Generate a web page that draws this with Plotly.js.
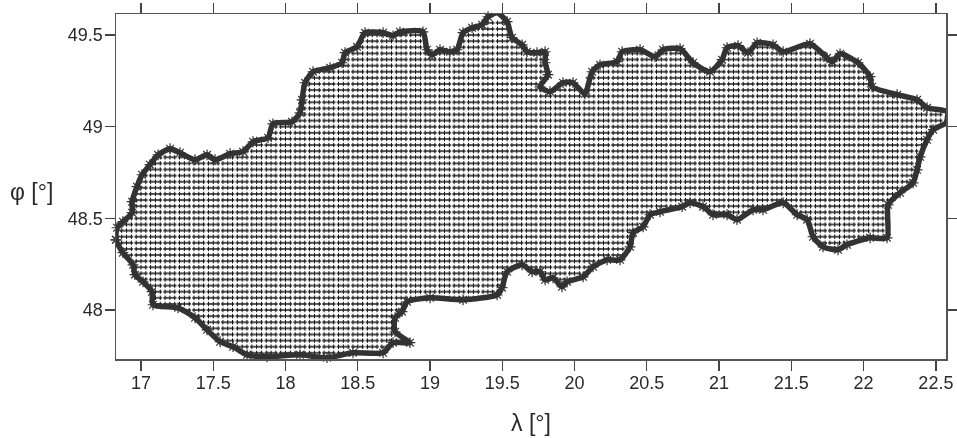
<!DOCTYPE html>
<html><head><meta charset="utf-8">
<script src="https://cdn.plot.ly/plotly-3.0.1.min.js"></script>
<style>html,body{margin:0;padding:0;background:#fff}#c{width:957px;height:438px;filter:blur(0.35px)}</style>
</head><body><div id="c"></div>
<script>
const borderLon=[16.827,16.834,16.875,16.938,16.938,16.972,17.007,17.062,17.118,17.201,17.270,17.374,17.457,17.512,17.616,17.706,17.775,17.879,17.913,18.045,18.100,18.114,18.135,18.190,18.308,18.391,18.412,18.495,18.550,18.675,18.744,18.792,18.951,18.979,19.014,19.069,19.138,19.187,19.228,19.291,19.360,19.401,19.464,19.533,19.567,19.637,19.671,19.740,19.796,19.796,19.816,19.761,19.830,19.920,19.989,20.072,20.121,20.176,20.294,20.329,20.453,20.557,20.612,20.730,20.820,20.937,21.020,21.055,21.131,21.200,21.263,21.373,21.443,21.629,21.747,21.782,21.837,21.962,22.045,22.059,22.232,22.370,22.439,22.578,22.571,22.481,22.439,22.391,22.370,22.342,22.252,22.169,22.162,22.045,21.885,21.823,21.719,21.650,21.609,21.540,21.443,21.304,21.235,21.124,21.055,20.958,20.889,20.799,20.744,20.591,20.522,20.474,20.405,20.384,20.315,20.225,20.128,20.059,19.948,19.913,19.851,19.796,19.761,19.706,19.637,19.533,19.498,19.464,19.228,19.000,18.841,18.806,18.758,18.758,18.861,18.744,18.675,18.467,18.287,18.100,17.872,17.734,17.637,17.547,17.457,17.374,17.256,17.083,17.076,17.014,16.958,16.945,16.875,16.827];
const borderLat=[48.383,48.449,48.482,48.531,48.591,48.673,48.738,48.793,48.847,48.880,48.858,48.820,48.847,48.820,48.853,48.864,48.918,48.940,49.016,49.027,49.076,49.147,49.240,49.300,49.322,49.349,49.404,49.436,49.513,49.513,49.496,49.518,49.518,49.420,49.392,49.420,49.409,49.420,49.513,49.540,49.557,49.600,49.622,49.573,49.486,49.447,49.409,49.404,49.409,49.349,49.284,49.218,49.191,49.240,49.240,49.180,49.300,49.338,49.355,49.409,49.420,49.382,49.420,49.426,49.349,49.300,49.366,49.431,49.442,49.404,49.458,49.447,49.409,49.453,49.376,49.355,49.398,49.349,49.273,49.218,49.175,49.147,49.104,49.082,49.022,48.984,48.929,48.836,48.765,48.694,48.640,48.574,48.394,48.394,48.356,48.329,48.345,48.400,48.493,48.520,48.585,48.547,48.547,48.493,48.520,48.520,48.564,48.585,48.564,48.536,48.520,48.454,48.422,48.345,48.274,48.274,48.236,48.181,48.154,48.127,48.176,48.165,48.209,48.209,48.247,48.209,48.122,48.083,48.056,48.067,48.045,47.991,47.958,47.881,47.822,47.822,47.767,47.767,47.740,47.756,47.745,47.756,47.800,47.827,47.892,47.958,48.012,48.029,48.100,48.154,48.193,48.247,48.313,48.383];
// grid rows: latitude, then [from, to] longitude runs of the inner points
const rowLat=[49.5667,49.5333,49.5,49.4667,49.4333,49.4,49.3667,49.3333,49.3,49.2667,49.2333,49.2,49.1667,49.1333,49.1,49.0667,49.0333,49,48.9667,48.9333,48.9,48.8667,48.8333,48.8,48.7667,48.7333,48.7,48.6667,48.6333,48.6,48.5667,48.5333,48.5,48.4667,48.4333,48.4,48.3667,48.3333,48.3,48.2667,48.2333,48.2,48.1667,48.1333,48.1,48.0667,48.0333,48,47.9667,47.9333,47.9,47.8667,47.8333,47.8,47.7667];
const rowRuns=[
[19.37,19.53],[19.28,19.55],[18.55,18.96,19.22,19.56],[18.52,18.97,19.21,19.59],
[18.50,18.97,19.19,19.65,21.07,21.17,21.22,21.42,21.55,21.68],
[18.41,19.00,19.03,19.80,20.34,20.53,20.60,20.77,21.06,21.75,21.84,21.89],
[18.40,19.79,20.30,20.81,21.02,21.76,21.80,21.93],
[18.33,19.79,20.17,20.85,20.98,21.99],[18.19,19.81,20.12,20.92,20.95,22.01],[18.17,19.80,20.10,22.05],
[18.13,19.77,19.90,20.00,20.08,22.05],[18.12,19.80,19.85,20.04,20.08,22.10],
[18.11,22.25],[18.11,22.39],[18.10,22.46],[18.08,22.55],[18.06,22.56],[17.91,22.53],[17.89,22.47],[17.80,22.44],[17.75,22.42],
[17.17,17.24,17.72,22.39],[17.10,17.32,17.42,17.48,17.56,22.38],
[17.07,22.37],[17.04,22.36],[17.01,22.35],[16.99,22.34],[16.97,22.30],[16.96,22.24],[16.95,22.20],
[16.94,20.76,20.86,21.38,21.49,22.16],[16.94,20.58,20.93,21.22,21.51,22.16],[16.90,20.50,21.10,21.13,21.60,22.16],
[16.86,20.48,21.62,22.16],[16.84,20.45,21.63,22.16],[16.83,20.40,21.65,22.16],[16.83,20.38,21.69,21.94],[16.855,20.37,21.78,21.84],
[16.89,20.34],[16.92,20.22],[16.95,19.60,19.66,20.13],[16.96,19.52,19.77,20.08],[17.00,19.50,19.80,19.82,19.87,20.01],[17.03,19.50,19.89,19.92],
[17.07,19.47],[17.08,19.34],[17.09,18.83],[17.28,18.81],[17.36,18.77],[17.41,18.76],[17.45,18.76],[17.50,18.76],[17.54,18.82],[17.63,18.72],[17.70,18.67]];
const lonTicks=[17,17.5,18,18.5,19,19.5,20,20.5,21,21.5,22,22.5];
const latTicks=[48,48.5,49,49.5];

const gx=[],gy=[],gs=[];
rowLat.forEach((la,i)=>{const r=rowRuns[i];for(let j=0;j<r.length;j+=2){
  for(let k=Math.ceil(r[j]*30-0.01);k<=Math.floor(r[j+1]*30+0.01);k++){gx.push(k/30);gy.push(la);gs.push(k%3===0?4.8:2.6);}
}});
const axis={ticks:'outside',ticklen:10,tickwidth:1.3,tickcolor:'#444',showline:true,linecolor:'#555',linewidth:1.5,mirror:'ticks',showgrid:false,zeroline:false,tickfont:{family:'Liberation Sans, Arial, sans-serif',size:18,color:'#2a2a2a'}};
const traces=[
 {type:'scatter',mode:'markers',x:gx,y:gy,cliponaxis:false,hoverinfo:'skip',marker:{symbol:'line-ew',size:gs,color:'#111',line:{width:2,color:'#111'}}},
 {type:'scatter',mode:'markers',x:gx,y:gy,cliponaxis:false,hoverinfo:'skip',marker:{symbol:'line-ns',size:3.2,color:'#111',line:{width:1,color:'#111'}}},
 {type:'scatter',mode:'lines+markers',x:borderLon,y:borderLat,cliponaxis:false,hoverinfo:'skip',line:{color:'#333',width:5.5,shape:'spline',smoothing:0.6},marker:{symbol:'asterisk-open',size:9,color:'#333',line:{width:1.2,color:'#333'}}}
];
const layout={width:957,height:438,showlegend:false,paper_bgcolor:'#fff',plot_bgcolor:'#fff',
 margin:{l:116,r:11,t:14,b:79},
 xaxis:Object.assign({},axis,{range:[16.827,22.57],tickmode:'array',tickvals:lonTicks,ticktext:lonTicks.map(String),ticklabelstandoff:-3,
   title:{text:'λ [°]',standoff:23,font:{family:'Liberation Sans, Arial, sans-serif',size:23,color:'#2a2a2a'}}}),
 yaxis:Object.assign({},axis,{range:[47.733,49.615],tickmode:'array',tickvals:latTicks,ticktext:latTicks.map(String),ticklabelstandoff:-2}),
 annotations:[{xref:'paper',yref:'paper',x:-0.102,y:0.483,xanchor:'center',yanchor:'middle',showarrow:false,text:'φ [°]',font:{family:'Liberation Sans, Arial, sans-serif',size:23,color:'#2a2a2a'}}]
};
Plotly.newPlot('c',traces,layout,{displayModeBar:false,staticPlot:true});
</script></body></html>
